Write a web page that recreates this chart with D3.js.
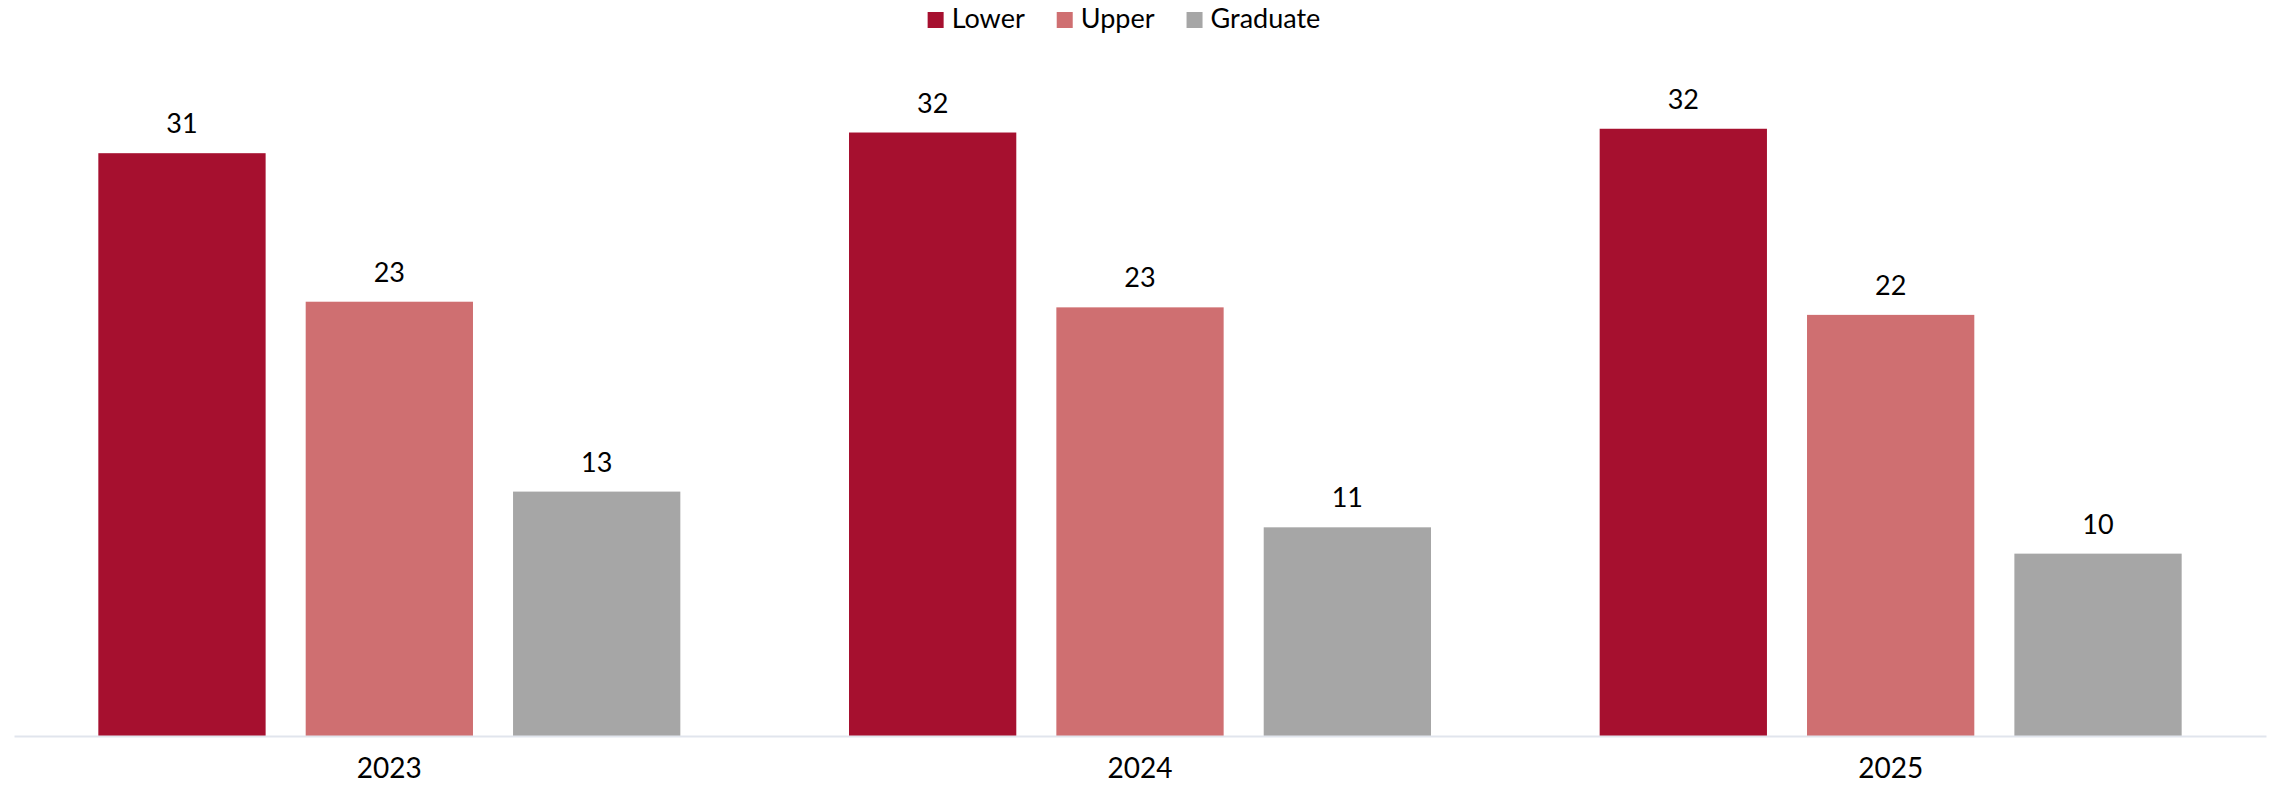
<!DOCTYPE html>
<html>
<head>
<meta charset="utf-8">
<script src="https://cdn.jsdelivr.net/npm/d3@7"></script>
<style>
  body { margin: 0; background: #fff; }
  text { font-family: "Century Gothic", "Lato", "Noto Sans", sans-serif; fill: #000; }
</style>
</head>
<body>
<div id="chart"></div>
<script>
var width = 2275, height = 787;

// data
var years = ["2023", "2024", "2025"];
var seriesNames = ["Lower", "Upper", "Graduate"];
var lower = [31.0, 32.1, 32.3];
var upper = [23.1, 22.8, 22.4];
var graduate = [13.0, 11.1, 9.7];
var seriesColors = ["#a6102f", "#cf6f71", "#a6a6a6"];

var seriesValues = [lower, upper, graduate];
var data = years.map((y, i) => ({
  year: y,
  values: seriesNames.map((s, j) => ({ name: s, value: seriesValues[j][i] }))
}));

var margin = { left: 14, right: 9, bottom: 51 };
var baseY = height - margin.bottom;

var svg = d3.select("#chart").append("svg")
  .attr("width", width)
  .attr("height", height);

var x0 = d3.scaleBand()
  .domain(years)
  .range([margin.left, width - margin.right])
  .paddingInner(0)
  .paddingOuter(0);

var groupW = 582;
var x1 = d3.scaleBand()
  .domain(seriesNames)
  .range([(x0.bandwidth() - groupW) / 2, (x0.bandwidth() + groupW) / 2])
  .paddingInner(40 / 207)
  .paddingOuter(0);

var y = d3.scaleLinear()
  .domain([0, 35])
  .range([baseY, baseY - 35 * 18.8]);

var color = d3.scaleOrdinal(seriesNames, seriesColors);

var group = svg.append("g")
  .selectAll("g")
  .data(data)
  .join("g")
  .attr("transform", d => `translate(${x0(d.year)},0)`);

group.selectAll("rect")
  .data(d => d.values)
  .join("rect")
  .attr("x", d => x1(d.name))
  .attr("y", d => y(d.value))
  .attr("width", x1.bandwidth())
  .attr("height", d => baseY - y(d.value))
  .attr("fill", d => color(d.name));

group.selectAll("text.val")
  .data(d => d.values)
  .join("text")
  .attr("class", "val")
  .attr("x", d => x1(d.name) + x1.bandwidth() / 2)
  .attr("y", d => y(d.value) - 20)
  .attr("text-anchor", "middle")
  .style("font-size", "27px")
  .text(d => d3.format(".0f")(d.value));

// x axis
var xAxis = svg.append("g")
  .attr("transform", `translate(0,${baseY})`)
  .call(d3.axisBottom(x0).tickSize(0).tickPadding(22));
xAxis.select(".domain").attr("stroke", "#e1e5ed").attr("stroke-width", 2);
xAxis.selectAll("text")
  .style("font-size", "28px")
  .style("font-family", null);

// legend
var legend = svg.append("g");
var item = legend.selectAll("g")
  .data(seriesNames)
  .join("g");
item.append("rect")
  .attr("width", 16)
  .attr("height", 16)
  .attr("y", 12)
  .attr("fill", color);
item.append("text")
  .attr("x", 24)
  .attr("y", 28)
  .style("font-size", "27px")
  .text(d => d);

var xpos = 0;
item.each(function() {
  var w = 24 + d3.select(this).select("text").node().getComputedTextLength();
  d3.select(this).attr("transform", `translate(${xpos},0)`);
  xpos += w + 32;
});
var legendW = xpos - 32;
legend.attr("transform", `translate(${1124 - legendW / 2},0)`);
</script>
</body>
</html>
